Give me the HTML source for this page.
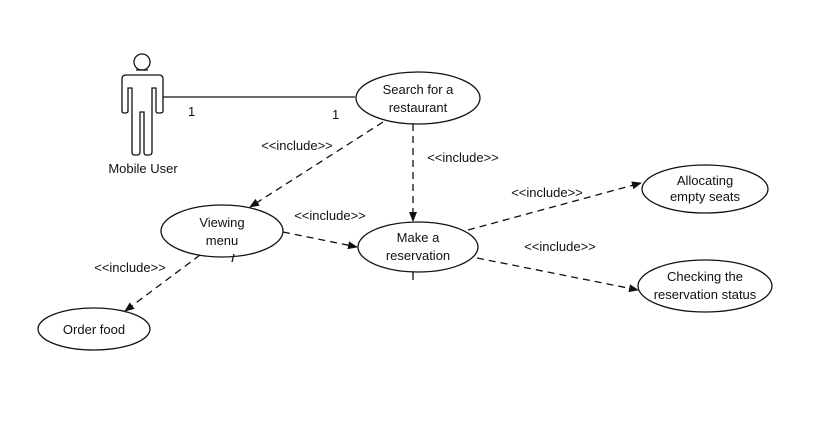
<!DOCTYPE html>
<html><head><style>body{margin:0;background:#fff}svg{display:block}text{font-family:"Liberation Sans",sans-serif;font-size:13px;fill:#111}</style></head>
<body>
<svg width="829" height="436" viewBox="0 0 829 436">
<defs><marker id="a" markerWidth="10" markerHeight="8" refX="9" refY="4" orient="auto" markerUnits="userSpaceOnUse"><path d="M0,0 L10,4 L0,8 Z" fill="#111"/></marker></defs>
<g fill="none" stroke="#111" stroke-width="1.3">
<circle cx="142" cy="62" r="8"/>
<path d="M136,70 L148,70 M126,75 L159,75 Q163,75 163,79 L163,111 Q163,113 160,113 L158,113 Q156,113 156,111 L156,88 L152,88 L152,152 Q152,155 149,155 L146,155 Q144,155 144,152 L144,112 L140,112 L140,152 Q140,155 137,155 L134,155 Q132,155 132,152 L132,88 L128,88 L128,111 Q128,113 125,113 L124,113 Q122,113 122,111 L122,79 Q122,75 126,75"/>
<line x1="163" y1="97" x2="355" y2="97"/>
<ellipse cx="418" cy="98" rx="62" ry="26"/>
<ellipse cx="222" cy="231" rx="61" ry="26"/>
<ellipse cx="418" cy="247" rx="60" ry="25"/>
<ellipse cx="705" cy="189" rx="63" ry="24"/>
<ellipse cx="705" cy="286" rx="67" ry="26"/>
<ellipse cx="94" cy="329" rx="56" ry="21"/>
<g stroke-dasharray="7,5" marker-end="url(#a)">
<line x1="383" y1="122" x2="250" y2="207"/>
<line x1="413" y1="124" x2="413" y2="221"/>
<line x1="283" y1="232" x2="357" y2="247"/>
<line x1="468" y1="230" x2="641" y2="183"/>
<line x1="477" y1="258" x2="638" y2="290"/>
<line x1="200" y1="255" x2="125" y2="311"/>
</g>
<line x1="234" y1="254" x2="232" y2="262"/>
<line x1="413" y1="272" x2="413" y2="280"/>
</g>
<text x="143" y="173" text-anchor="middle">Mobile User</text>
<text x="188" y="116">1</text><text x="332" y="119">1</text>
<text x="418" y="94" text-anchor="middle">Search for a</text>
<text x="418" y="112" text-anchor="middle">restaurant</text>
<text x="222" y="227" text-anchor="middle">Viewing</text>
<text x="222" y="245" text-anchor="middle">menu</text>
<text x="418" y="242" text-anchor="middle">Make a</text>
<text x="418" y="260" text-anchor="middle">reservation</text>
<text x="705" y="185" text-anchor="middle">Allocating</text>
<text x="705" y="201" text-anchor="middle">empty seats</text>
<text x="705" y="281" text-anchor="middle">Checking the</text>
<text x="705" y="299" text-anchor="middle">reservation status</text>
<text x="94" y="334" text-anchor="middle">Order food</text>
<text x="297" y="150" text-anchor="middle">&lt;&lt;include&gt;&gt;</text>
<text x="463" y="162" text-anchor="middle">&lt;&lt;include&gt;&gt;</text>
<text x="330" y="220" text-anchor="middle">&lt;&lt;include&gt;&gt;</text>
<text x="547" y="197" text-anchor="middle">&lt;&lt;include&gt;&gt;</text>
<text x="560" y="251" text-anchor="middle">&lt;&lt;include&gt;&gt;</text>
<text x="130" y="272" text-anchor="middle">&lt;&lt;include&gt;&gt;</text>
</svg>
</body></html>
